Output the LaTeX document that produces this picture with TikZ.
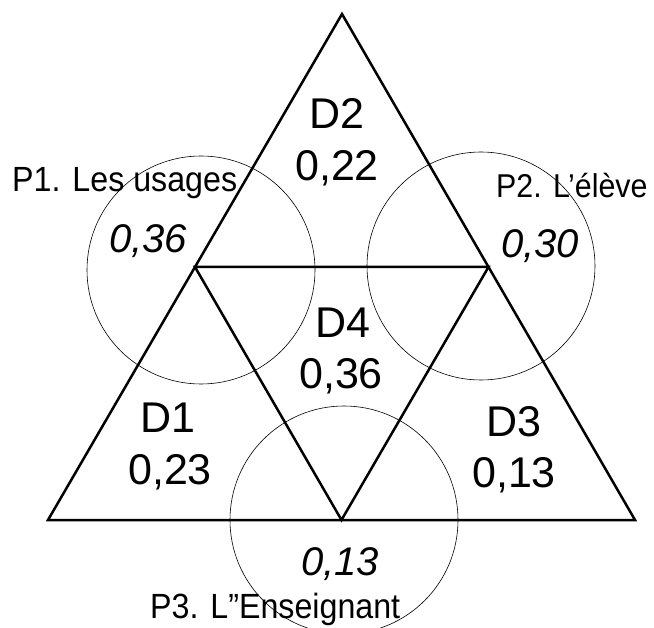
\documentclass[tikz,border=0pt]{standalone}
\usepackage{fontspec}
\setmainfont{Liberation Sans}
\newfontfamily\polefont[FakeStretch=0.92, Ligatures=TeX]{Liberation Sans}
\begin{document}
\begin{tikzpicture}[x=1pt,y=-1pt,
  lab/.style={font=\fontsize{43}{45}\selectfont, inner sep=0pt, anchor=base},
  val/.style={font=\fontsize{40}{42}\selectfont\itshape, inner sep=0pt, anchor=base},
  pole/.style={font=\polefont\fontsize{35}{37}\selectfont, inner sep=0pt, anchor=base west}]
\useasboundingbox (0,0) rectangle (654,628);
\coordinate (apex) at (342,14);
\coordinate (botL) at (48,520);
\coordinate (botR) at (635,520);
\coordinate (midL) at (195,267);
\coordinate (midR) at (488.5,267);
\coordinate (midB) at (341.5,520);
\draw[black, line width=2.5pt] (apex) -- (botR) -- (botL) -- cycle;
\draw[black, line width=2.5pt] (midL) -- (midR) -- (midB) -- cycle;
\draw[black, line width=0.6pt] (201,270) circle (114pt);
\draw[black, line width=0.6pt] (481,266) circle (114pt);
\draw[black, line width=0.6pt] (344,520) circle (114pt);
\node[lab] (d2) at (337,129) {D2};
\node[lab] (d2v) at (337,181) {0,22};
\node[lab] (d4) at (343,338) {D4};
\node[lab] (d4v) at (341,389) {0,36};
\node[lab] (d1) at (168,433) {D1};
\node[lab] (d1v) at (170,485) {0,23};
\node[lab] (d3) at (514,437) {D3};
\node[lab] (d3v) at (514,488) {0,13};
\node[pole] (p1) at (12,192) {P1. Les usages};
\node[val] (p1v) at (148,253) {0,36};
\node[pole, font=\polefont\fontsize{33}{35}\selectfont] (p2) at (496,198) {P2. L'élève};
\node[val] (p2v) at (540,258) {0,30};
\node[val] (p3v) at (340,575) {0,13};
\node[pole] (p3) at (150,618) {P3. L''Enseignant};
\end{tikzpicture}
\end{document}
